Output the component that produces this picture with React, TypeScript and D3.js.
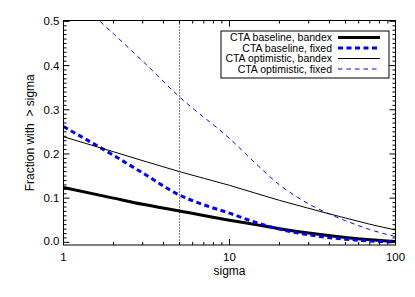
import React from "react";
import * as d3 from "d3";

// ---- data ----
const sigmaBaseBandex = [1, 2, 3, 5, 10, 15, 20, 30, 50, 70, 100];
const fracBaseBandex = [0.124, 0.1, 0.086, 0.071, 0.05, 0.039, 0.031, 0.021, 0.011, 0.006, 0.002];

const sigmaBaseFixed = [1, 2, 3, 5, 7, 10, 15, 20, 30, 50, 70, 100];
const fracBaseFixed = [0.262, 0.197, 0.157, 0.107, 0.085, 0.066, 0.043, 0.03, 0.017, 0.007, 0.003, 0.001];

const sigmaOptBandex = [1, 2, 5, 10, 20, 30, 38.5, 50, 70, 100];
const fracOptBandex = [0.239, 0.205, 0.16, 0.129, 0.095, 0.077, 0.066, 0.055, 0.041, 0.028];

const sigmaOptFixed = [1, 1.66, 2, 3, 5, 10, 15, 20, 25, 30, 40, 50, 70, 100];
const fracOptFixed = [0.58, 0.5, 0.472, 0.41, 0.329, 0.235, 0.172, 0.13, 0.105, 0.087, 0.064, 0.049, 0.029, 0.013];

const xTickValues = [1, 10, 100];
const xTickLabels = ["1", "10", "100"];
const yTickValues = [0, 0.1, 0.2, 0.3, 0.4, 0.5];
const yTickLabels = ["0.0", "0.1", "0.2", "0.3", "0.4", "0.5"];
const legendLabels = [
  "CTA baseline, bandex",
  "CTA baseline, fixed",
  "CTA optimistic, bandex",
  "CTA optimistic, fixed",
];
const markerSigma = 5;

const W = 415;
const H = 297;
const L = 63.5;
const R = 395.5;
const T = 20.5;
const B = 245;

export default function App() {
  const x = d3.scaleLog().domain([1, 100]).range([L, R]);
  const y = d3.scaleLinear().domain([-0.006, 0.502]).range([B, T]);

  const mk = (xs: number[], ys: number[]) =>
    d3
      .line<number>()
      .x((_, i) => x(xs[i]))
      .y((d) => y(d))
      .curve(d3.curveMonotoneX)(ys) || "";

  const series = [
    { d: mk(sigmaBaseBandex, fracBaseBandex), color: "#000", w: 3, dash: "" },
    { d: mk(sigmaBaseFixed, fracBaseFixed), color: "#0000ff", w: 3, dash: "5,3.5" },
    { d: mk(sigmaOptBandex, fracOptBandex), color: "#000", w: 1, dash: "" },
    { d: mk(sigmaOptFixed, fracOptFixed), color: "#0000ff", w: 1, dash: "4.5,4" },
  ];

  const minorX: number[] = [];
  for (const dec of [1, 10]) for (let k = 2; k <= 9; k++) minorX.push(dec * k);
  const minorY: number[] = [];
  for (let i = 0; i <= 50; i++) if (i % 10 !== 0) minorY.push(i / 100);

  const font = "Liberation Sans, Arial, Helvetica, sans-serif";
  const legendRows = [37.5, 48, 58.5, 69];

  return (
    <svg
      width={W}
      height={H}
      style={{ position: "absolute", left: 0, top: 0, background: "#fff" }}
      fontFamily={font}
    >
      <defs>
        <clipPath id="plotclip">
          <rect x={L} y={T} width={R - L} height={B - T} />
        </clipPath>
      </defs>
      <rect x={0} y={0} width={W} height={H} fill="#fff" />

      {/* marker line */}
      <line
        x1={x(markerSigma)}
        x2={x(markerSigma)}
        y1={T}
        y2={B}
        stroke="#000"
        strokeWidth={1}
        strokeDasharray="1,2"
      />

      <g clipPath="url(#plotclip)">
        {series.map((s, i) => (
          <path
            key={i}
            d={s.d}
            fill="none"
            stroke={s.color}
            strokeWidth={s.w}
            strokeDasharray={s.dash || undefined}
          />
        ))}
      </g>

      {/* frame */}
      <rect x={L} y={T} width={R - L} height={B - T} fill="none" stroke="#000" strokeWidth={1} />

      {/* x ticks */}
      {xTickValues.map((v) => (
        <g key={"xt" + v}>
          <line x1={x(v)} x2={x(v)} y1={B} y2={B - 6} stroke="#000" />
          <line x1={x(v)} x2={x(v)} y1={T} y2={T + 6} stroke="#000" />
        </g>
      ))}
      {minorX.map((v) => (
        <g key={"xm" + v}>
          <line x1={x(v)} x2={x(v)} y1={B} y2={B - 3} stroke="#000" />
          <line x1={x(v)} x2={x(v)} y1={T} y2={T + 3} stroke="#000" />
        </g>
      ))}
      {xTickValues.map((v, i) => (
        <text key={"xl" + v} x={x(v)} y={261} fontSize={11.5} textAnchor="middle" fill="#000">
          {xTickLabels[i]}
        </text>
      ))}

      {/* y ticks */}
      {yTickValues.map((v) => (
        <g key={"yt" + v}>
          <line x1={L} x2={L + 6} y1={y(v)} y2={y(v)} stroke="#000" />
          <line x1={R} x2={R - 6} y1={y(v)} y2={y(v)} stroke="#000" />
        </g>
      ))}
      {minorY.map((v) => (
        <g key={"ym" + v}>
          <line x1={L} x2={L + 3} y1={y(v)} y2={y(v)} stroke="#000" />
          <line x1={R} x2={R - 3} y1={y(v)} y2={y(v)} stroke="#000" />
        </g>
      ))}
      {yTickValues.map((v, i) => (
        <text
          key={"yl" + v}
          x={59.5}
          y={Math.min(y(v), 241) + 4}
          fontSize={11.5}
          textAnchor="end"
          fill="#000"
        >
          {yTickLabels[i]}
        </text>
      ))}

      {/* axis titles */}
      <text x={x(10)} y={275} fontSize={12} textAnchor="middle" fill="#000">
        sigma
      </text>
      <text
        transform={`translate(34,${(T + B) / 2}) rotate(-90)`}
        fontSize={12}
        textAnchor="middle"
        fill="#000"
        style={{ whiteSpace: "pre" }}
      >
        {"Fraction with  > sigma"}
      </text>

      {/* legend */}
      <rect x={221} y={31} width={168} height={47} fill="#fff" stroke="#000" strokeWidth={1} />
      {legendLabels.map((lab, i) => (
        <g key={"lg" + i}>
          <text x={332} y={legendRows[i] + 3.8} fontSize={10.5} textAnchor="end" fill="#000">
            {lab}
          </text>
          <line
            x1={338}
            x2={380}
            y1={legendRows[i]}
            y2={legendRows[i]}
            stroke={series[i].color}
            strokeWidth={series[i].w}
            strokeDasharray={series[i].dash || undefined}
          />
        </g>
      ))}
    </svg>
  );
}
